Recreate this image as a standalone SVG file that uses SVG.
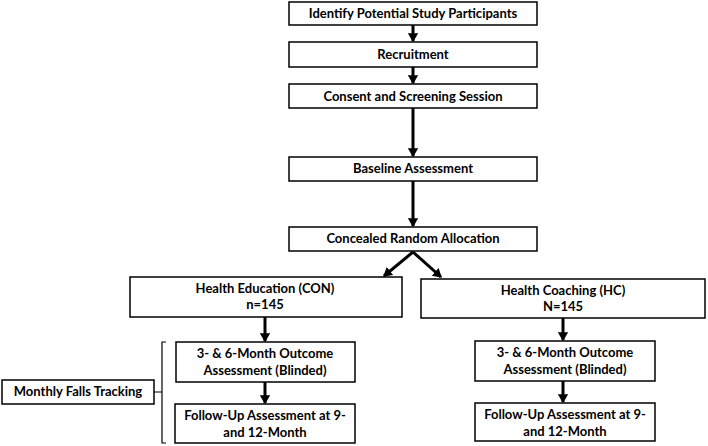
<svg xmlns="http://www.w3.org/2000/svg" width="708" height="446" viewBox="0 0 708 446">
<defs>
<marker id="ah" markerWidth="3.4" markerHeight="3.4" refX="2.6" refY="1.7" orient="auto" markerUnits="strokeWidth">
<path d="M0,0 L3,1.7 L0,3.4 z" fill="#000"/>
</marker>
<style>
.box{fill:#fff;stroke:#000;stroke-width:1.5}
.t{font-family:Lato,"Open Sans",sans-serif;font-weight:bold;font-size:13px;fill:#000;text-anchor:middle}
.ar{stroke:#000;stroke-width:3;fill:none;marker-end:url(#ah)}
.ln{stroke:#000;stroke-width:1.2;fill:none}
</style>
</defs>
<rect width="708" height="446" fill="#fff"/>
<g id="connectors">
<line class="ar" x1="413" y1="25" x2="413" y2="41"/>
<line class="ar" x1="413" y1="67" x2="413" y2="83"/>
<line class="ar" x1="413" y1="108" x2="413" y2="156"/>
<line class="ar" x1="413" y1="181" x2="413" y2="226"/>
<line class="ar" x1="413" y1="252" x2="384" y2="276"/>
<line class="ar" x1="413" y1="252" x2="441" y2="277"/>
<line class="ar" x1="265" y1="317" x2="265" y2="341"/>
<line class="ar" x1="563" y1="318" x2="563" y2="340"/>
<line class="ar" x1="265" y1="382" x2="265" y2="403"/>
<line class="ar" x1="563" y1="381" x2="563" y2="402"/>
<path class="ln" d="M166,342 L162,342 L162,443 L166,443 M154,392 L162,392"/>
</g>
<g id="n1"><rect class="box" x="289" y="2" width="248" height="23"/><text class="t" x="413" y="18">Identify Potential Study Participants</text></g>
<g id="n2"><rect class="box" x="289" y="42" width="248" height="25"/><text class="t" x="413" y="59">Recruitment</text></g>
<g id="n3"><rect class="box" x="289" y="84" width="248" height="24"/><text class="t" x="413" y="101">Consent and Screening Session</text></g>
<g id="n4"><rect class="box" x="289" y="157" width="248" height="24"/><text class="t" x="413" y="173">Baseline Assessment</text></g>
<g id="n5"><rect class="box" x="289" y="227" width="248" height="24"/><text class="t" x="413" y="243">Concealed Random Allocation</text></g>
<g id="n6"><rect class="box" x="130" y="277" width="272" height="40"/><text class="t" x="265" y="293">Health Education (CON)</text><text class="t" x="265" y="309">n=145</text></g>
<g id="n7"><rect class="box" x="421" y="279" width="284" height="39"/><text class="t" x="563" y="295">Health Coaching (HC)</text><text class="t" x="563" y="311">N=145</text></g>
<g id="n8"><rect class="box" x="176" y="342" width="179" height="40"/><text class="t" x="265" y="358">3- &amp; 6-Month Outcome</text><text class="t" x="265" y="375">Assessment (Blinded)</text></g>
<g id="n9"><rect class="box" x="175" y="404" width="180" height="39"/><text class="t" x="265" y="420">Follow-Up Assessment at 9-</text><text class="t" x="265" y="437">and 12-Month</text></g>
<g id="n10"><rect class="box" x="475" y="341" width="180" height="40"/><text class="t" x="565" y="357">3- &amp; 6-Month Outcome</text><text class="t" x="565" y="374">Assessment (Blinded)</text></g>
<g id="n11"><rect class="box" x="475" y="403" width="180" height="38"/><text class="t" x="565" y="419">Follow-Up Assessment at 9-</text><text class="t" x="565" y="436">and 12-Month</text></g>
<g id="n12"><rect class="box" x="2" y="380" width="152" height="24"/><text class="t" x="78" y="396">Monthly Falls Tracking</text></g>
</svg>
